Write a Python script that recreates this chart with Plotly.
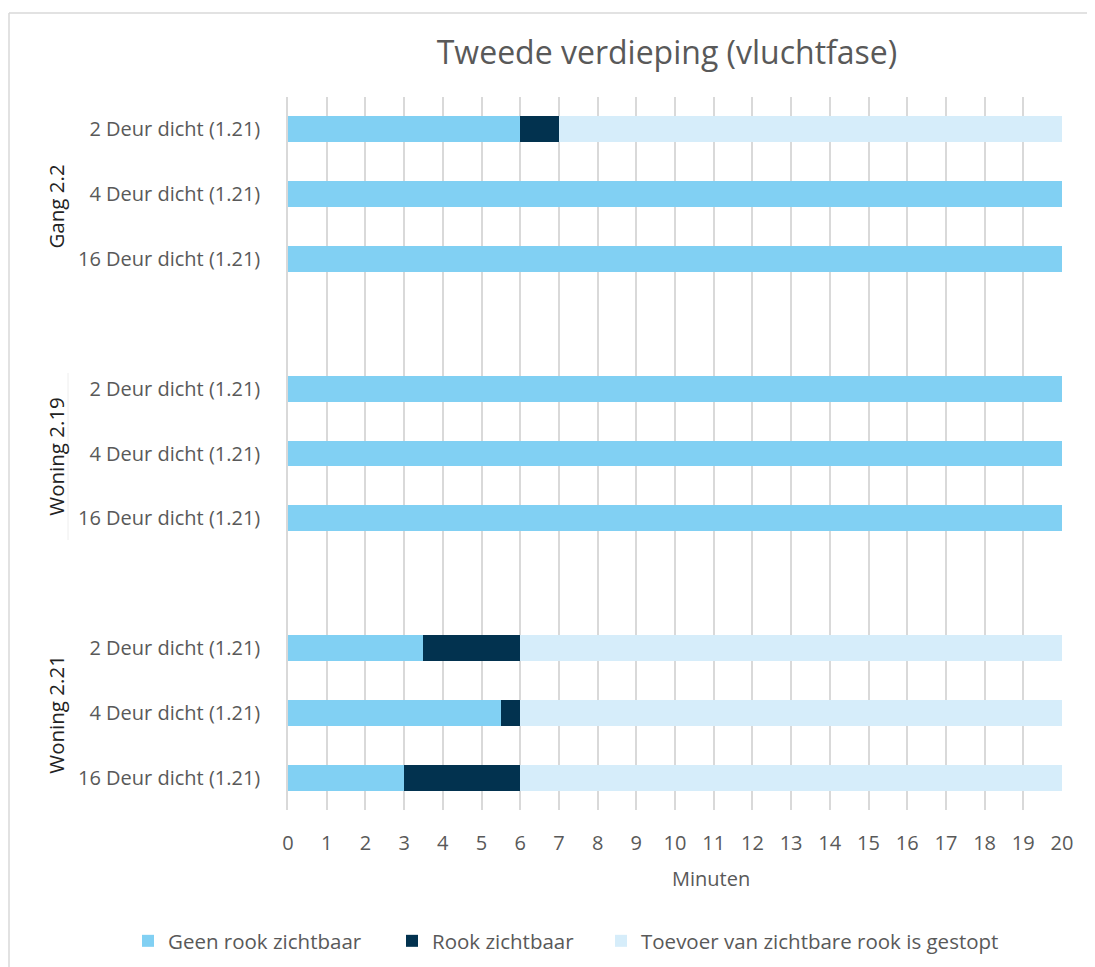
import plotly.graph_objects as go

# Data
row_labels = ["2 Deur dicht (1.21)", "4 Deur dicht (1.21)", "16 Deur dicht (1.21)",
              "",
              "2 Deur dicht (1.21)", "4 Deur dicht (1.21)", "16 Deur dicht (1.21)",
              "",
              "2 Deur dicht (1.21)", "4 Deur dicht (1.21)", "16 Deur dicht (1.21)"]
row_pos = list(range(len(row_labels)))
groups = ["Gang 2.2", "Woning 2.19", "Woning 2.21"]
group_pos = [1.19, 5.05, 9.03]

series_names = ["Geen rook zichtbaar", "Rook zichtbaar", "Toevoer van zichtbare rook is gestopt"]
geen_rook = [6, 20, 20, None, 20, 20, 20, None, 3.5, 5.5, 3]
rook = [1, 0, 0, None, 0, 0, 0, None, 2.5, 0.5, 3]
toevoer = [13, 0, 0, None, 0, 0, 0, None, 14, 14, 14]
colors = ["#81D0F3", "#02324F", "#D6EDFA"]

x_ticks = list(range(0, 21))

OFF = 8  # page body offset
W, H = 1095 - OFF, 967 - OFF
L, R, T, B = 288 - OFF, 33, 97 - OFF, 157
FONT = "Open Sans"
GREY = "#595959"

pw, ph = W - L - R, H - T - B
def px(x):
    return (x - OFF - L) / pw
def py(y):
    return ((H - B) - (y - OFF)) / ph

legend_ids = ["legend", "legend2", "legend3"]
legend_text_x = [165, 429, 638]

fig = go.Figure()
for name, vals, col, lid in zip(series_names, [geen_rook, rook, toevoer], colors, legend_ids):
    fig.add_trace(go.Bar(
        y=row_pos, x=vals, name=name, orientation="h", legend=lid,
        marker=dict(color=col, line=dict(width=0)), width=0.4,
    ))

legend_style = dict(orientation="h", xref="paper", yref="paper", y=py(941),
                    xanchor="left", yanchor="middle", bgcolor="rgba(0,0,0,0)",
                    font=dict(family=FONT, size=20.5, color=GREY), itemwidth=30)
legends = {}
for lid, tx in zip(legend_ids, legend_text_x):
    legends[lid] = dict(legend_style, x=px(tx - 37))

fig.update_layout(
    width=W, height=H,
    margin=dict(l=L, r=R, t=T, b=B, autoexpand=False),
    barmode="stack",
    plot_bgcolor="white", paper_bgcolor="white",
    font=dict(family=FONT, color=GREY, size=19),
    title=dict(text="Tweede verdieping (vluchtfase)", x=(667 - OFF) / W, xref="container",
               y=1 - (53 - OFF) / H, yref="container", xanchor="center", yanchor="middle",
               font=dict(family=FONT, size=32, color=GREY)),
    showlegend=True,
    **legends,
)

fig.update_xaxes(range=[0, 20], tickvals=x_ticks, showgrid=True, gridcolor="#D9D9D9",
                 gridwidth=1.5, zeroline=False, showline=False, automargin=False,
                 ticks="outside", ticklen=0, ticklabelstandoff=15,
                 tickfont=dict(family=FONT, size=20, color=GREY))
fig.update_yaxes(range=[10.5, -0.5], tickvals=row_pos, ticktext=row_labels,
                 showgrid=False, zeroline=False, showline=True, linecolor="#D9D9D9",
                 linewidth=1.5, ticks="", ticklabelstandoff=22, automargin=False,
                 tickfont=dict(family=FONT, size=20, color=GREY))

for g, p in zip(groups, group_pos):
    fig.add_annotation(text=g, x=px(40), xref="paper", y=p, yref="y", showarrow=False,
                       textangle=-90, font=dict(family=FONT, size=20.5, color="#222222"))

fig.add_annotation(text="Minuten", x=px(711), xref="paper", y=py(878), yref="paper",
                   showarrow=False, xanchor="center", yanchor="middle",
                   font=dict(family=FONT, size=20, color=GREY))

fig.add_shape(type="line", xref="paper", yref="paper", x0=px(9), x1=px(1095), y0=py(13), y1=py(13),
              line=dict(color="#D9D9D9", width=1.5))
fig.add_shape(type="line", xref="paper", yref="paper", x0=px(9), x1=px(9), y0=py(13), y1=py(967),
              line=dict(color="#D9D9D9", width=1.5))
fig.add_shape(type="line", xref="paper", yref="paper", x0=px(68), x1=px(68), y0=py(373), y1=py(540),
              line=dict(color="#EEEEEE", width=1))

fig.write_html("out.html")
